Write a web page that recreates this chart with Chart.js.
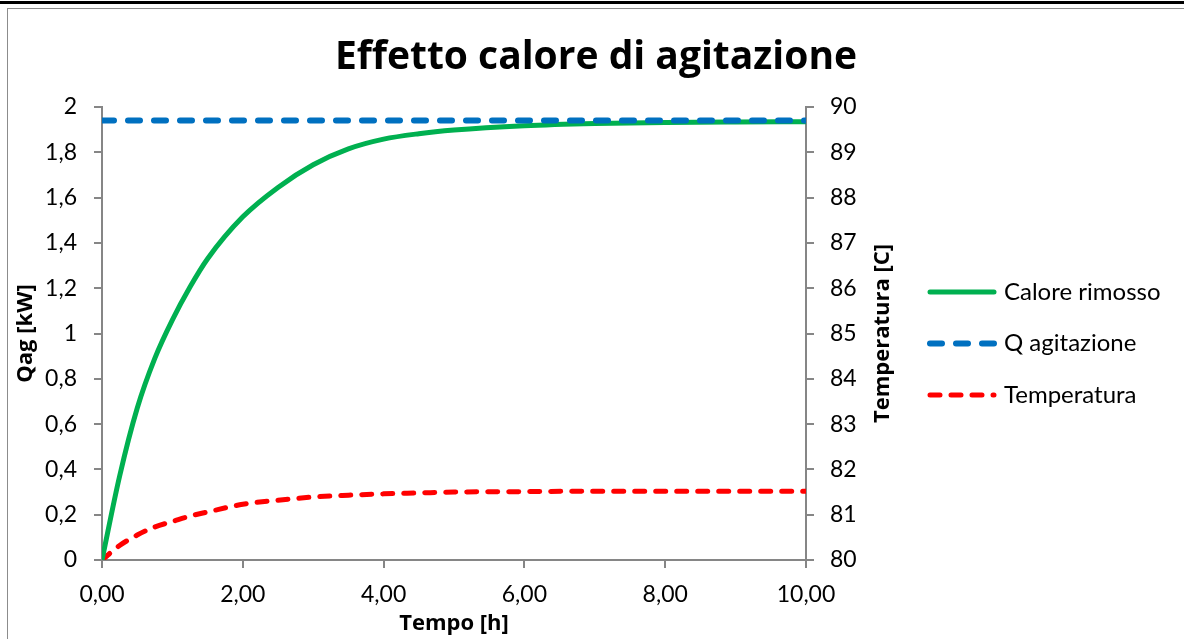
<!DOCTYPE html>
<html>
<head>
<meta charset="utf-8">
<script src="https://cdn.jsdelivr.net/npm/chart.js@4.4.0/dist/chart.umd.min.js"></script>
<style>
  html, body { margin: 0; padding: 0; background: #fff; }
  body { width: 1184px; height: 639px; overflow: hidden; position: relative; }
  .topline { position: absolute; left: 0; top: 1px; width: 1184px; height: 3px; background: #000; }
  .frame { position: absolute; left: 7px; top: 8px; width: 1200px; height: 700px;
           border-left: 1px solid #8c8c8c; border-top: 1px solid #8c8c8c; }
  #chart { position: absolute; left: 8px; top: 9px; }
</style>
</head>
<body>
<div class="topline"></div>
<div class="frame"></div>
<canvas id="chart" width="1176" height="630"></canvas>
<script>
const tempo = [0, 0.25, 0.5, 0.75, 1, 1.25, 1.5, 2, 2.5, 3, 3.5, 4, 4.5, 5, 6, 7, 8, 9, 10];
const caloreRimosso = [0, 0.37, 0.67, 0.89, 1.06, 1.205, 1.33, 1.515, 1.645, 1.745, 1.815, 1.858, 1.882, 1.898, 1.917, 1.927, 1.932, 1.934, 1.935];
const temperatura = [80, 80.32, 80.55, 80.73, 80.85, 80.97, 81.06, 81.23, 81.32, 81.39, 81.43, 81.46, 81.48, 81.50, 81.51, 81.52, 81.52, 81.52, 81.52];
const tempoQ = [0, 10];
const qAgitazione = [1.94, 1.94];

const xTicks = [0, 2, 4, 6, 8, 10];

const grigio = '#868686';
const fontTitoli = 'Open Sans';
Chart.defaults.font.family = 'Lato';
Chart.defaults.color = '#000';

const toXY = (xs, ys) => xs.map((x, i) => ({ x: x, y: ys[i] }));
const virgola = (v, d) => v.toFixed(d).replace('.', ',');

// titolo dell'asse destro (dal basso verso l'alto) e legenda a destra
const decorazioni = {
    id: 'decorazioni',
    afterDraw(chart) {
        const { ctx, chartArea, scales } = chart;
        const centro = (chartArea.top + chartArea.bottom) / 2;

        ctx.save();
        ctx.translate(scales.y1.left + 77, centro);
        ctx.rotate(-Math.PI / 2);
        ctx.font = 'bold 22px "' + fontTitoli + '"';
        ctx.fillStyle = '#000';
        ctx.textAlign = 'center';
        ctx.textBaseline = 'middle';
        ctx.fillText('Temperatura [C]', 0, 0);
        ctx.restore();

        const x0 = scales.y1.left + 121;
        chart.data.datasets.forEach((ds, i) => {
            const y = centro + 10 + (i - 1) * 51.5;
            ctx.save();
            ctx.strokeStyle = ds.borderColor;
            ctx.lineWidth = ds.borderWidth;
            ctx.lineCap = 'round';
            ctx.setLineDash(ds.borderDash || []);
            ctx.beginPath();
            ctx.moveTo(x0 + 3, y);
            ctx.lineTo(x0 + 67, y);
            ctx.stroke();
            ctx.restore();

            ctx.font = '24px Lato';
            ctx.fillStyle = '#000';
            ctx.textAlign = 'left';
            ctx.textBaseline = 'middle';
            ctx.fillText(ds.label, x0 + 77, y);
        });
    }
};

const asse = (extra) => Object.assign({
    border: { color: grigio, width: 2 },
    grid: { drawOnChartArea: false, drawTicks: true, tickLength: 8, color: grigio, lineWidth: 2 }
}, extra);

new Chart(document.getElementById('chart'), {
    type: 'line',
    data: {
        datasets: [
            {
                label: 'Calore rimosso',
                data: toXY(tempo, caloreRimosso),
                borderColor: '#00B050',
                borderWidth: 5,
                borderCapStyle: 'round',
                cubicInterpolationMode: 'monotone',
                pointRadius: 0,
                yAxisID: 'y',
                order: 2
            },
            {
                label: 'Q agitazione',
                data: toXY(tempoQ, qAgitazione),
                borderColor: '#0070C0',
                borderWidth: 6,
                borderDash: [12, 14],
                borderCapStyle: 'round',
                pointRadius: 0,
                yAxisID: 'y',
                order: 1
            },
            {
                label: 'Temperatura',
                data: toXY(tempo, temperatura),
                borderColor: '#FF0000',
                borderWidth: 5,
                borderDash: [10, 11],
                borderCapStyle: 'round',
                cubicInterpolationMode: 'monotone',
                pointRadius: 0,
                yAxisID: 'y1',
                order: 3
            }
        ]
    },
    options: {
        responsive: false,
        animation: false,
        devicePixelRatio: 1,
        plugins: {
            title: {
                display: true,
                text: 'Effetto calore di agitazione',
                font: { family: fontTitoli, size: 39, weight: 'bold' },
                color: '#000',
                padding: { top: 25.6, bottom: 25.6 }
            },
            legend: { display: false },
            tooltip: { enabled: false }
        },
        scales: {
            x: asse({
                type: 'linear',
                min: 0,
                max: 10,
                afterBuildTicks: (s) => { s.ticks = xTicks.map(v => ({ value: v })); },
                afterFit: (s) => { s.height = 79; },
                ticks: { padding: 13, font: { size: 23 }, callback: (v) => virgola(v, 2) },
                title: { display: true, text: 'Tempo [h]', font: { family: fontTitoli, size: 22, weight: 'bold' },
                         padding: { top: 0, bottom: 2 } }
            }),
            y: asse({
                position: 'left',
                min: 0,
                max: 2,
                afterFit: (s) => { s.width = 94; },
                ticks: { stepSize: 0.2, padding: 17, font: { size: 23 },
                         callback: (v) => Number(v.toFixed(1)).toString().replace('.', ',') },
                title: { display: true, text: 'Qag [kW]', font: { family: fontTitoli, size: 22, weight: 'bold' },
                         padding: { top: 5, bottom: 0 } }
            }),
            y1: asse({
                position: 'right',
                min: 80,
                max: 90,
                // lo spazio a destra ospita anche il titolo dell'asse e la legenda
                afterFit: (s) => { s.width = 378; },
                ticks: { stepSize: 1, padding: 16, font: { size: 23 } }
            })
        }
    },
    plugins: [decorazioni]
});
</script>
</body>
</html>
